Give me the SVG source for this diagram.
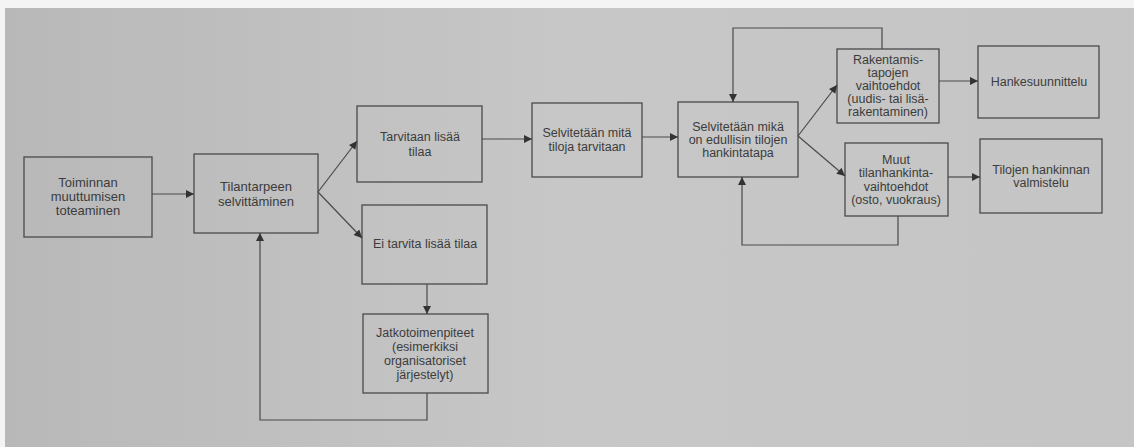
<svg xmlns="http://www.w3.org/2000/svg" width="1134" height="447" viewBox="0 0 1134 447">
<defs>
<style>
.box rect{fill:none;stroke:#4a4a4a;stroke-width:1.3}
text{font-family:"Liberation Sans",Arial,sans-serif;font-size:12.5px;fill:#3c3c3c;text-anchor:middle}
.big{font-size:13px}
.conn path{fill:none;stroke:#4a4a4a;stroke-width:1.2}
</style>
<linearGradient id="bg" x1="0" y1="0" x2="1" y2="0">
<stop offset="0" stop-color="#b8b8b8"/>
<stop offset="0.5" stop-color="#c7c7c7"/>
<stop offset="1" stop-color="#c5c5c5"/>
</linearGradient>
<marker id="ah" viewBox="0 0 10 10" refX="10" refY="5" markerWidth="9" markerHeight="8" markerUnits="userSpaceOnUse" orient="auto">
<path d="M0,0 L10,5 L0,10 z" fill="#333"/>
</marker>
</defs>
<rect x="0" y="0" width="1134" height="447" fill="url(#bg)"/>
<rect x="0" y="0" width="1134" height="8" fill="#f4f4f4"/>
<rect x="0" y="0" width="5" height="447" fill="#f4f4f4"/>

<g id="n1" class="box"><rect x="24" y="157" width="128" height="80"/>
<text class="big" x="88" y="187">Toiminnan</text><text class="big" x="88" y="201">muuttumisen</text><text class="big" x="88" y="215">toteaminen</text></g>
<g id="n2" class="box"><rect x="194" y="154" width="124" height="79"/>
<text class="big" x="256" y="191">Tilantarpeen</text><text class="big" x="256" y="206">selvittäminen</text></g>
<g id="n3" class="box"><rect x="357" y="106" width="125" height="76"/>
<text x="420" y="141">Tarvitaan lisää</text><text x="420" y="156">tilaa</text></g>
<g id="n4" class="box"><rect x="532" y="103" width="110" height="74"/>
<text x="587" y="137">Selvitetään mitä</text><text x="587" y="151">tiloja tarvitaan</text></g>
<g id="n5" class="box"><rect x="678" y="102" width="120" height="75"/>
<text x="738" y="131">Selvitetään mikä</text><text x="738" y="144">on edullisin tilojen</text><text x="738" y="157">hankintatapa</text></g>
<g id="n6" class="box"><rect x="837" y="49" width="102" height="74"/>
<text x="888" y="64">Rakentamis-</text><text x="888" y="77">tapojen</text><text x="888" y="90">vaihtoehdot</text><text x="888" y="103">(uudis- tai lisä-</text><text x="888" y="116">rakentaminen)</text></g>
<g id="n7" class="box"><rect x="845" y="143" width="103" height="73"/>
<text x="896" y="164">Muut</text><text x="896" y="177">tilanhankinta-</text><text x="896" y="191">vaihtoehdot</text><text x="896" y="204">(osto, vuokraus)</text></g>
<g id="n8" class="box"><rect x="978" y="46" width="121" height="72"/>
<text x="1039" y="86">Hankesuunnittelu</text></g>
<g id="n9" class="box"><rect x="980" y="139" width="122" height="74"/>
<text x="1041" y="174">Tilojen hankinnan</text><text x="1041" y="187">valmistelu</text></g>
<g id="n10" class="box"><rect x="362" y="205" width="125" height="79"/>
<text x="425" y="248">Ei tarvita lisää tilaa</text></g>
<g id="n11" class="box"><rect x="363" y="314" width="125" height="79"/>
<text x="425" y="337">Jatkotoimenpiteet</text><text x="425" y="351">(esimerkiksi</text><text x="425" y="365">organisatoriset</text><text x="425" y="379">järjestelyt)</text></g>

<g id="connectors" class="conn">
<path d="M152,194 L194,194" marker-end="url(#ah)"/>
<path d="M318,192 L357,141" marker-end="url(#ah)"/>
<path d="M318,192 L362,238" marker-end="url(#ah)"/>
<path d="M482,139 L532,139" marker-end="url(#ah)"/>
<path d="M642,137 L678,137" marker-end="url(#ah)"/>
<path d="M798,136 L837,85" marker-end="url(#ah)"/>
<path d="M798,136 L845,176" marker-end="url(#ah)"/>
<path d="M882,49 L882,28 L733,28 L733,102" marker-end="url(#ah)"/>
<path d="M898,216 L898,245 L742,245 L742,177" marker-end="url(#ah)"/>
<path d="M939,81 L978,81" marker-end="url(#ah)"/>
<path d="M948,177 L980,177" marker-end="url(#ah)"/>
<path d="M427,284 L427,314" marker-end="url(#ah)"/>
<path d="M427,393 L427,420 L260,420 L260,233" marker-end="url(#ah)"/>
</g>
</svg>
